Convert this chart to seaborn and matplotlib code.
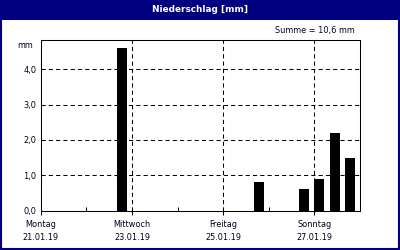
import matplotlib
matplotlib.use("Agg")
import matplotlib.pyplot as plt
from matplotlib.patches import Rectangle
from matplotlib.ticker import FixedLocator
import seaborn as sns
import pandas as pd
import numpy as np

# ---- data ----
start = "2019-01-21 00:00"
bar_times = ["2019-01-22 16:00", "2019-01-25 16:00", "2019-01-26 16:00",
             "2019-01-27 00:00", "2019-01-27 08:00", "2019-01-27 16:00"]
bar_values = [4.6, 0.8, 0.6, 0.9, 2.2, 1.5]
interval_hours = 8
day_names = ["Montag", "Mittwoch", "Freitag", "Sonntag"]
day_dates = ["21.01.19", "23.01.19", "25.01.19", "27.01.19"]
title = "Niederschlag [mm]"
unit = "mm"

# ---- style ----
sns.set_theme(style="white")
plt.rcParams["font.family"] = ["DejaVu Sans"]
navy = "#000080"
fs = 5.9

t0 = pd.Timestamp(start)
days = np.array([(pd.Timestamp(t) - t0).total_seconds() / 86400 for t in bar_times])
bar_frac = 0.66
bar_w = bar_frac * interval_hours / 24
df = pd.DataFrame({"x": days + bar_w / 2, "value": bar_values})

fig = plt.figure(figsize=(4, 2.5), dpi=100)
fig.patch.set_facecolor("white")
ax = fig.add_axes([40.7 / 400, 1 - 210.5 / 250, (360 - 40.7) / 400, (210.5 - 40) / 250])

sns.barplot(data=df, x="x", y="value", native_scale=True, orient="x",
            width=bar_frac, color="black", saturation=1, errorbar=None,
            linewidth=0, ax=ax)

ymax = max(bar_values) * 1.05
ax.set_xlim(0, 7)
ax.set_ylim(0, ymax)

ax.xaxis.set_major_locator(FixedLocator([0, 2, 4, 6]))
ax.xaxis.set_minor_locator(FixedLocator([1, 3, 5]))
ax.set_xticklabels([f"{n}\n{d}" for n, d in zip(day_names, day_dates)],
                   fontsize=fs, linespacing=1.55)
ax.yaxis.set_major_locator(FixedLocator([0, 1, 2, 3, 4]))
ax.set_yticklabels([f"{v:.1f}".replace(".", ",") for v in [0, 1, 2, 3, 4]], fontsize=fs)
ax.tick_params(axis="x", which="major", direction="out", length=3, width=0.75,
               color="black", pad=4, labelcolor="#000020", bottom=True)
ax.tick_params(axis="x", which="minor", direction="in", length=3, width=0.75,
               color="black", bottom=True)
ax.tick_params(axis="y", length=0, pad=3, labelcolor="#000020")
ax.set_xlabel("")
ax.set_ylabel("")

for v in [1, 2, 3, 4]:
    ax.axhline(v, color="black", lw=0.75, ls=(0, (4, 3)), zorder=0)
for d in [2, 4, 6]:
    ax.axvline(d, color="black", lw=0.75, ls=(0, (4, 3)), zorder=0)

for s in ax.spines.values():
    s.set_color("black")
    s.set_linewidth(0.75)
    s.set_visible(True)

# title bar
fig.patches.append(Rectangle((0, 1 - 20 / 250), 1, 20 / 250, transform=fig.transFigure,
                             facecolor=navy, edgecolor="none", zorder=0))
fig.text(0.5, 1 - 10 / 250, title, color="white", fontsize=6.4, fontweight="bold",
         ha="center", va="center")
# border
fig.patches.append(Rectangle((0.002, 0.003), 0.996, 0.994, transform=fig.transFigure,
                             facecolor="none", edgecolor=navy, lw=1.5, zorder=5))

total = sum(bar_values)
fig.text(355 / 400, 1 - 31 / 250, f"Summe = {total:.1f} mm".replace(".", ","),
         fontsize=fs, ha="right", va="center", color="#000020")
fig.text(25 / 400, 1 - 45.5 / 250, unit, fontsize=fs, ha="center", va="center",
         color="#000020")

fig.savefig("out.png", dpi=100)
